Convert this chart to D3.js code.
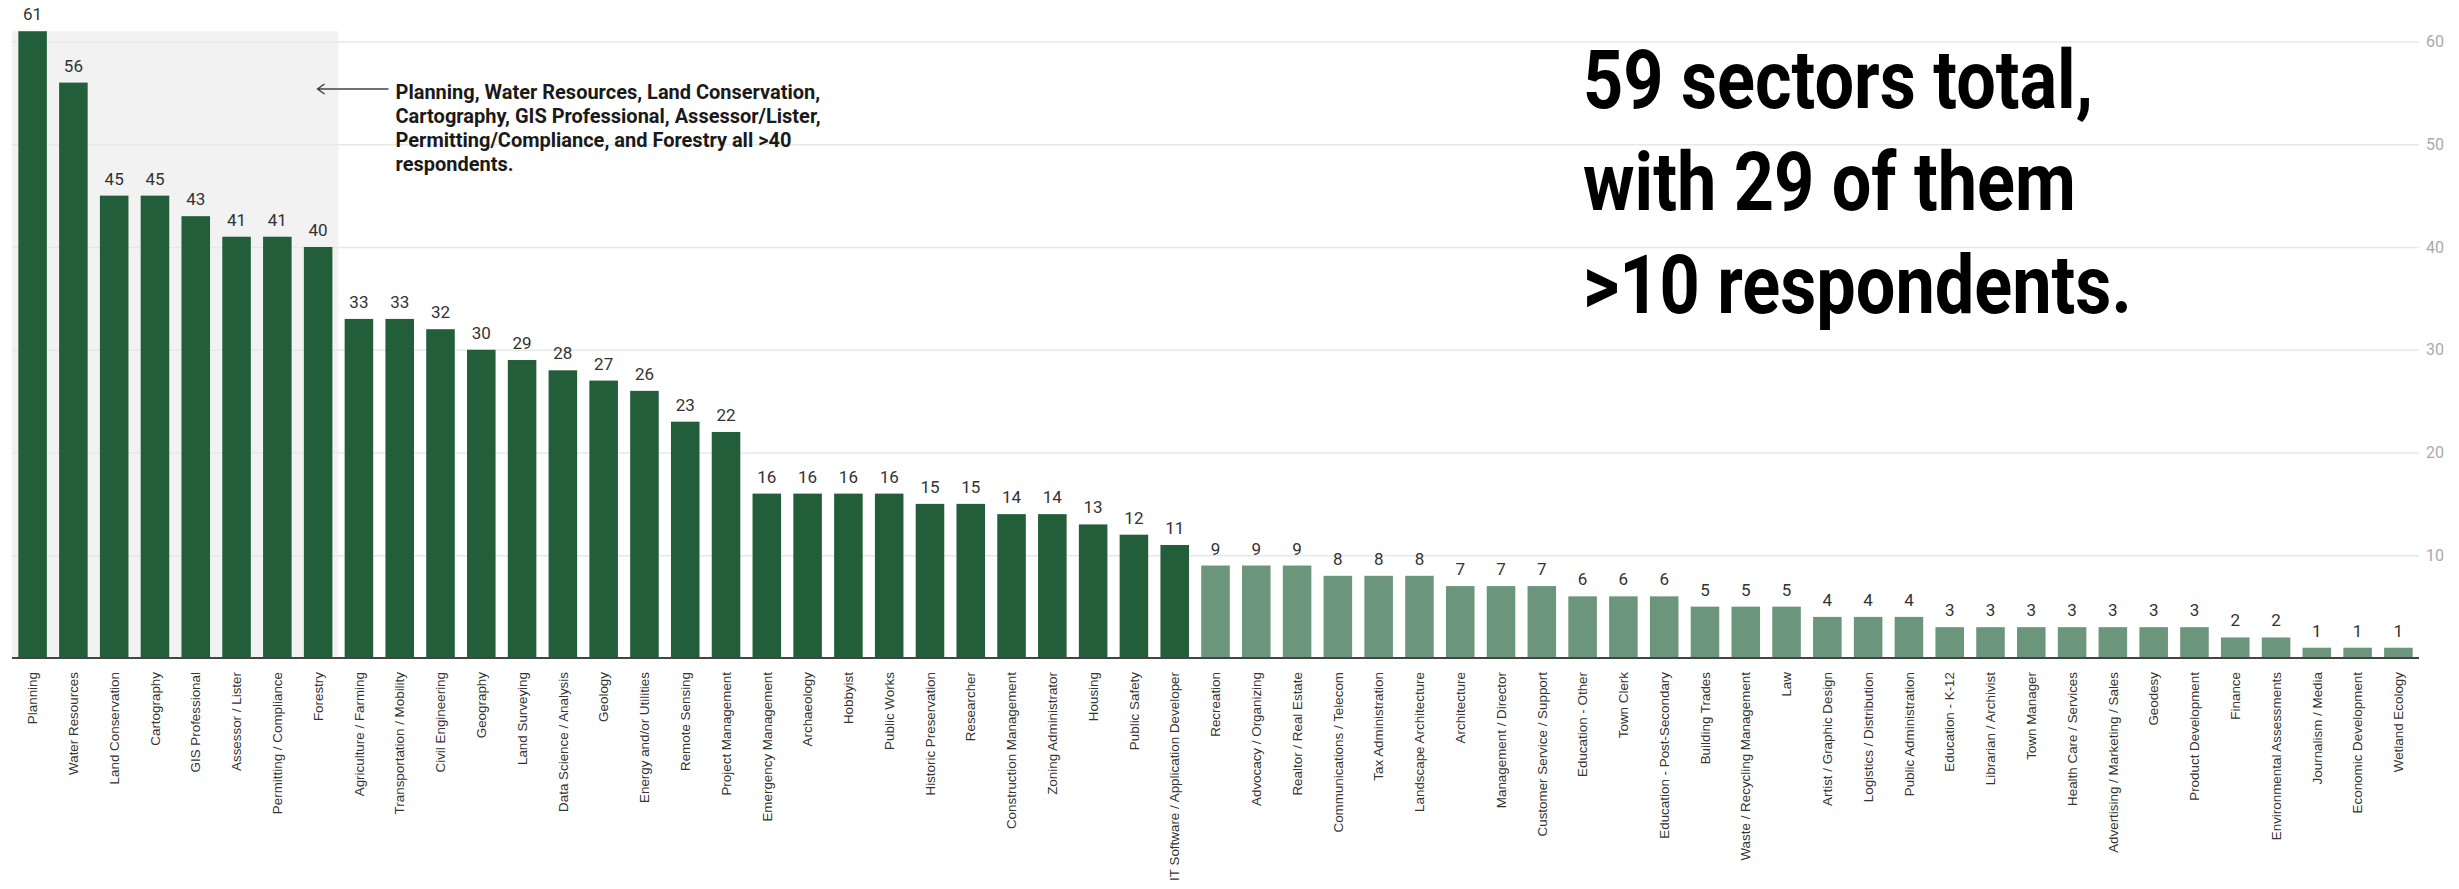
<!DOCTYPE html>
<html lang="en">
<head>
    <meta charset="UTF-8">
    <script src="https://d3js.org/d3.v7.min.js"></script>
    <title>Respondents by sector</title>
    <style>
        body { margin: 0; background: #fff; }
        svg { display: block; background: #fff; }
        .cat-label { font-family: "Liberation Sans", Arial, sans-serif; font-size: 13.4px; fill: #333; }
        .val-label { font-family: Roboto, sans-serif; font-size: 17px; fill: #333; }
        .tick-label { font-family: Roboto, sans-serif; font-size: 16px; fill: #aaa; }
    </style>
</head>
<body>
<svg width="2459" height="889"></svg>
<script>
    // data
    const sectors = ["Planning", "Water Resources", "Land Conservation", "Cartography", "GIS Professional",
        "Assessor / Lister", "Permitting / Compliance", "Forestry", "Agriculture / Farming",
        "Transportation / Mobility", "Civil Engineering", "Geography", "Land Surveying",
        "Data Science / Analysis", "Geology", "Energy and/or Utilities", "Remote Sensing",
        "Project Management", "Emergency Management", "Archaeology", "Hobbyist", "Public Works",
        "Historic Preservation", "Researcher", "Construction Management", "Zoning Administrator",
        "Housing", "Public Safety", "IT Software / Application Developer", "Recreation",
        "Advocacy / Organizing", "Realtor / Real Estate", "Communications / Telecom",
        "Tax Administration", "Landscape Architecture", "Architecture", "Management / Director",
        "Customer Service / Support", "Education - Other", "Town Clerk", "Education - Post-Secondary",
        "Building Trades", "Waste / Recycling Management", "Law", "Artist / Graphic Design",
        "Logistics / Distribution", "Public Administration", "Education - K-12",
        "Librarian / Archivist", "Town Manager", "Health Care / Services",
        "Advertising / Marketing / Sales", "Geodesy", "Product Development", "Finance",
        "Environmental Assessments", "Journalism / Media", "Economic Development", "Wetland Ecology"];
    const respondents = [61, 56, 45, 45, 43, 41, 41, 40, 33, 33, 32, 30, 29, 28, 27, 26, 23, 22,
        16, 16, 16, 16, 15, 15, 14, 14, 13, 12, 11, 9, 9, 9, 8, 8, 8, 7, 7, 7, 6, 6, 6,
        5, 5, 5, 4, 4, 4, 3, 3, 3, 3, 3, 3, 3, 2, 2, 1, 1, 1];
    const yTicks = [10, 20, 30, 40, 50, 60];
    const highlighted = sectors.slice(0, 8);   // the >40 group behind the grey box
    const noteLines = ["Planning, Water Resources, Land Conservation,",
        "Cartography, GIS Professional, Assessor/Lister,",
        "Permitting/Compliance, and Forestry all >40",
        "respondents."];
    const bigLines = ["59 sectors total,", "with 29 of them", ">10 respondents."];

    const data = sectors.map((s, i) => ({sector: s, value: respondents[i]}));

    const svg = d3.select("svg");
    const margin = {left: 12, right: 40, top: 41.5, bottom: 231};
    const width = 2459, height = 889;

    const x = d3.scaleBand()
        .domain(sectors)
        .range([margin.left, width - margin.right])
        .paddingInner(0.3)
        .paddingOuter(0.155);

    const y = d3.scaleLinear()
        .domain([0, 60])
        .range([height - margin.bottom, margin.top]);

    // grey box behind the top sectors
    const last = highlighted[highlighted.length - 1];
    const boxRight = x(last) + x.bandwidth() + x.step() * x.paddingInner() / 2;
    svg.append("rect")
        .attr("x", margin.left)
        .attr("y", y(d3.max(respondents)))
        .attr("width", boxRight - margin.left)
        .attr("height", y(0) - y(d3.max(respondents)))
        .attr("fill", "#f2f2f2");

    // gridlines + right axis
    const grid = svg.append("g")
        .attr("transform", `translate(${width - margin.right},0)`)
        .call(d3.axisRight(y).tickValues(yTicks).tickSize(-(width - margin.right - margin.left)).tickPadding(7));
    grid.select(".domain").remove();
    grid.selectAll(".tick line").attr("stroke", "#e8e8e8").attr("stroke-width", 1.5);
    grid.selectAll(".tick text").attr("class", "tick-label").attr("fill", null);

    // bars
    svg.append("g")
        .selectAll("rect")
        .data(data)
        .join("rect")
        .attr("x", d => x(d.sector))
        .attr("y", d => y(d.value))
        .attr("width", x.bandwidth())
        .attr("height", d => y(0) - y(d.value))
        .attr("fill", d => d.value > 10 ? "#235e3a" : "#6b967c");

    // value labels
    svg.append("g")
        .selectAll("text")
        .data(data)
        .join("text")
        .attr("class", "val-label")
        .attr("x", d => x(d.sector) + x.bandwidth() / 2)
        .attr("y", d => y(d.value) - 11)
        .attr("text-anchor", "middle")
        .text(d => d.value);

    // baseline + category labels
    const xAxis = svg.append("g")
        .attr("transform", `translate(0,${y(0)})`)
        .call(d3.axisBottom(x).tickSize(0).tickPadding(0));
    xAxis.select(".domain").attr("stroke", "#444").attr("stroke-width", 2)
        .attr("d", `M${margin.left},0H${width - margin.right}`);
    xAxis.selectAll(".tick text")
        .attr("class", "cat-label")
        .attr("fill", null)
        .attr("transform", "rotate(-90)")
        .attr("x", -14)
        .attr("y", 0)
        .attr("dy", "0.35em")
        .attr("text-anchor", "end");

    // annotation with arrow
    const noteX = boxRight + 57;
    const note = svg.append("g").attr("transform", `translate(${noteX},0)`);
    note.append("path")
        .attr("d", "M-7,89H-78 M-71,84L-78,89L-71,94")
        .attr("fill", "none").attr("stroke", "#444").attr("stroke-width", 1.5);
    const noteText = note.append("text")
        .style("font-family", "Roboto, sans-serif")
        .style("font-weight", 700)
        .style("font-size", "20px")
        .attr("fill", "#1a1a1a");
    noteText.selectAll("tspan")
        .data(noteLines)
        .join("tspan")
        .attr("x", 0)
        .attr("y", (d, i) => 99 + i * 24)
        .text(d => d);
    // squeeze to the width of the original first line
    const noteW = noteText.select("tspan").node().getComputedTextLength();
    noteText.attr("transform", `scale(${425 / noteW},1)`);

    // big callout
    const big = svg.append("text")
        .style("font-family", "Roboto, sans-serif")
        .style("font-weight", 700)
        .style("font-size", "81px")
        .attr("fill", "#000");
    big.selectAll("tspan")
        .data(bigLines)
        .join("tspan")
        .attr("x", 0)
        .attr("y", (d, i) => 108 + i * 102.5)
        .text(d => d);
    const bigW = big.select("tspan").node().getComputedTextLength();
    big.attr("transform", `translate(1583,0) scale(${510 / bigW},1)`);
</script>
</body>
</html>
